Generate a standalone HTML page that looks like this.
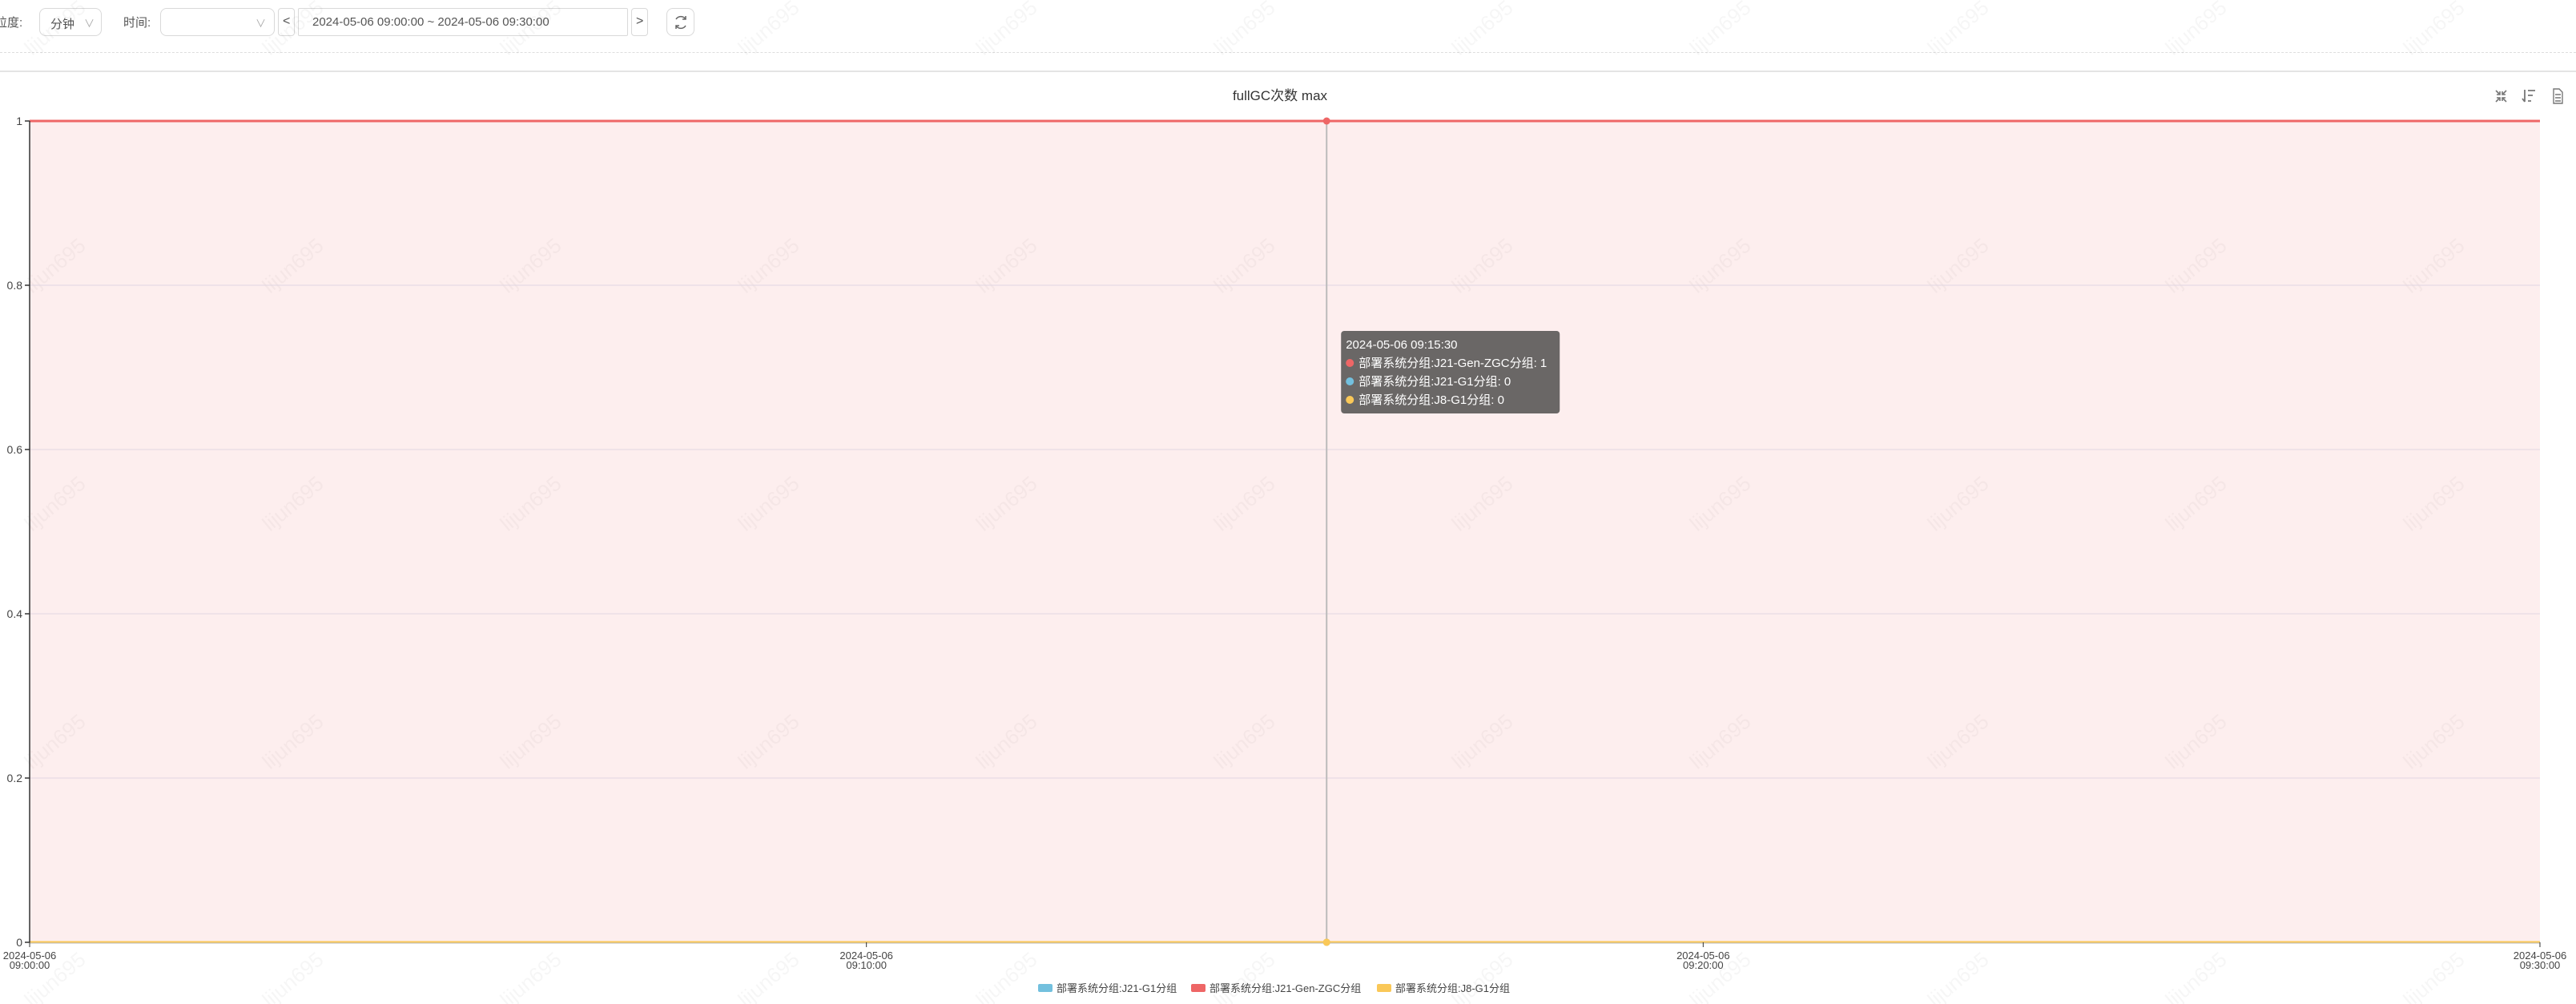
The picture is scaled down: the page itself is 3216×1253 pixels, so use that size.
<!DOCTYPE html>
<html><head><meta charset="utf-8">
<style>
html,body{margin:0;padding:0;background:#fff;}
body{width:3216px;height:1253px;position:relative;overflow:hidden;font-family:"Liberation Sans","Noto Sans CJK SC",sans-serif;color:#333;}
.abs{position:absolute;}
.box{position:absolute;border:1px solid #d9d9d9;border-radius:8px;box-sizing:border-box;background:#fff;}
.lbl{position:absolute;font-size:15px;color:#555;}
</style></head>
<body>
<div class="lbl" style="left:-6px;top:17px;">粒度:</div>
<div class="box" style="left:49px;top:10px;width:78px;height:35px;">
  <span class="abs" style="left:13px;top:8px;font-size:15px;color:#555;">分钟</span>
  <span class="abs" style="left:55px;top:8px;font-size:13px;color:#aaa;">∨</span>
</div>
<div class="lbl" style="left:154px;top:17px;">时间:</div>
<div class="box" style="left:200px;top:10px;width:143px;height:35px;">
  <span class="abs" style="left:118px;top:8px;font-size:13px;color:#aaa;">∨</span>
</div>
<div class="box" style="left:347px;top:10px;width:21px;height:35px;border-radius:4px;">
  <span class="abs" style="left:5px;top:7px;font-size:16px;color:#555;">&lt;</span>
</div>
<div class="box" style="left:372px;top:10px;width:412px;height:35px;border-radius:2px;">
  <span class="abs" style="left:17px;top:8px;font-size:15px;color:#555;white-space:nowrap;">2024-05-06 09:00:00 ~ 2024-05-06 09:30:00</span>
</div>
<div class="box" style="left:788px;top:10px;width:21px;height:35px;border-radius:4px;">
  <span class="abs" style="left:5px;top:7px;font-size:16px;color:#555;">&gt;</span>
</div>
<div class="box" style="left:832px;top:10px;width:35px;height:35px;">
  <svg class="abs" style="left:7px;top:7px" width="20" height="20" viewBox="0 0 20 20"><path d="M16 6 A7 7 0 0 0 4 6 M4 14 A7 7 0 0 0 16 14" fill="none" stroke="#666" stroke-width="1.5"/><path d="M16 2 V6 H12 M4 18 V14 H8" fill="none" stroke="#666" stroke-width="1.5"/></svg>
</div>
<div class="abs" style="left:0;top:65px;width:3216px;border-top:1px dashed #ddd;"></div>
<div class="abs" style="left:0;top:88px;width:3216px;border-top:2px solid #e4e4e4;"></div>

<svg id="chart" class="abs" style="left:0;top:0" width="3216" height="1253"></svg>

<script>
const minutes = [0,1,2,3,4,5,6,7,8,9,10,11,12,13,14,15,16,17,18,19,20,21,22,23,24,25,26,27,28,29,30];
const valJ21G1 = [0,0,0,0,0,0,0,0,0,0,0,0,0,0,0,0,0,0,0,0,0,0,0,0,0,0,0,0,0,0,0];
const valZGC   = [1,1,1,1,1,1,1,1,1,1,1,1,1,1,1,1,1,1,1,1,1,1,1,1,1,1,1,1,1,1,1];
const valJ8G1  = [0,0,0,0,0,0,0,0,0,0,0,0,0,0,0,0,0,0,0,0,0,0,0,0,0,0,0,0,0,0,0];
const yTicks = [0,0.2,0.4,0.6,0.8,1];
const xTickMinutes = [0,10,20,30];
const xTickLabels = [["2024-05-06","09:00:00"],["2024-05-06","09:10:00"],["2024-05-06","09:20:00"],["2024-05-06","09:30:00"]];
const hoverMinute = 15.5;
const hoverLabel = "2024-05-06 09:15:30";
const seriesNames = ["部署系统分组:J21-G1分组","部署系统分组:J21-Gen-ZGC分组","部署系统分组:J8-G1分组"];
const seriesColors = ["#73c0de","#ee6666","#fac858"];
const hoverValues = [0,1,0];

const L=37,R=3171,T=151,B=1176;
const xMin=0,xMax=30,yMin=0,yMax=1;
const sx=m=>L+(m-xMin)/(xMax-xMin)*(R-L);
const sy=v=>B-(v-yMin)/(yMax-yMin)*(B-T);
const NS="http://www.w3.org/2000/svg";
const svg=document.getElementById('chart');
function mk(tag,attrs,parent){const e=document.createElementNS(NS,tag);for(const k in attrs)e.setAttribute(k,attrs[k]);(parent||svg).appendChild(e);return e;}

for(let r=0;r<5;r++){for(let c=0;c<12;c++){
  const x=40+c*297, y=70+r*297;
  const t=mk('text',{x:x,y:y,transform:`rotate(-40 ${x} ${y})`,'font-size':26,fill:'rgba(0,0,0,0.035)','font-family':'Liberation Sans, sans-serif'});
  t.textContent='lijun695';
  
  
}}

const title=mk('text',{x:1598,y:125,'text-anchor':'middle','font-size':17,fill:'#333'});
title.textContent='fullGC次数 max';



const tb=mk('g',{});


const ic1=mk('g',{stroke:'#777','stroke-width':1.6,fill:'none'},tb);


mk('path',{d:'M3116 113 L3121 118 M3121 114 V118 H3117 M3129 113 L3124 118 M3124 114 V118 H3128 M3116 127 L3121 122 M3121 126 V122 H3117 M3129 127 L3124 122 M3124 126 V122 H3128'},ic1);
const ic2=mk('g',{stroke:'#777','stroke-width':1.8,fill:'none'},tb);


mk('path',{d:'M3152 112 V127 M3149 123 L3152 127 M3156 113 H3165 M3156 119 H3162 M3156 126 H3160'},ic2);
const ic3=mk('g',{stroke:'#777','stroke-width':1.4,fill:'none'},tb);


mk('path',{d:'M3188 111 H3195 L3199 115 V129 H3188 Z M3190 118 H3197 M3190 122 H3197 M3190 126 H3197'},ic3);

yTicks.forEach(v=>{
  const g=mk('line',{x1:L,x2:R,y1:sy(v),y2:sy(v),stroke:'#e0e6f1','stroke-width':1});
  
  
});

let ad=`M${sx(minutes[0])} ${sy(0)}`;
minutes.forEach((m,i)=>{ad+=` L${sx(m)} ${sy(valZGC[i])}`;});
ad+=` L${sx(minutes[minutes.length-1])} ${sy(0)} Z`;
const area=mk('path',{d:ad,fill:'rgba(238,102,102,0.11)'});



const hl=mk('line',{x1:sx(hoverMinute),x2:sx(hoverMinute),y1:T,y2:B,stroke:'#bbb','stroke-width':2});



function line(vals,color,name){
  const d=minutes.map((m,i)=>(i?'L':'M')+sx(m)+' '+sy(vals[i])).join(' ');
  const p=mk('path',{d:d,fill:'none',stroke:color,'stroke-width':3});
  
  
}
line(valJ21G1,seriesColors[0],'series-j21-g1-line');
line(valZGC,seriesColors[1],'series-j21-gen-zgc-line');
line(valJ8G1,seriesColors[2],'series-j8-g1-line');

const ya=mk('line',{x1:L,x2:L,y1:T,y2:B,stroke:'#333','stroke-width':1.5});


const xa=mk('line',{x1:L,x2:R,y1:B+1,y2:B+1,stroke:'#bbb','stroke-width':1});


yTicks.forEach(v=>{
  mk('line',{x1:L-6,x2:L,y1:sy(v),y2:sy(v),stroke:'#333','stroke-width':1.5});
  const t=mk('text',{x:L-9,y:sy(v)+5,'text-anchor':'end','font-size':14,fill:'#444'});
  t.textContent=String(v);
  
  
});
xTickMinutes.forEach((m,i)=>{
  mk('line',{x1:sx(m),x2:sx(m),y1:B,y2:B+6,stroke:'#333','stroke-width':1});
  const t=mk('text',{x:sx(m),y:B+21,'text-anchor':'middle','font-size':13,fill:'#444'});
  t.textContent=xTickLabels[i][0];
  
  
  const t2=mk('text',{x:sx(m),y:B+33,'text-anchor':'middle','font-size':13,fill:'#444'});
  t2.textContent=xTickLabels[i][1];
  
  
});

hoverValues.forEach((v,i)=>{
  const c=mk('circle',{cx:sx(hoverMinute),cy:sy(v),r:4.5,fill:seriesColors[i]});
  
  
});
mk('circle',{cx:sx(hoverMinute),cy:sy(hoverValues[2]),r:4.5,fill:seriesColors[2]});

const tg=mk('g',{});


const tx=sx(hoverMinute)+18, ty=413;
mk('rect',{x:tx,y:ty,width:273,height:103,rx:4,fill:'rgba(90,88,86,0.9)'},tg);
const t0=mk('text',{x:tx+6,y:ty+22,'font-size':15,fill:'#fff'},tg);
t0.textContent=hoverLabel;
const order=[1,0,2];
order.forEach((si,k)=>{
  const yy=ty+45+k*23;
  mk('circle',{cx:tx+11,cy:yy-5,r:5,fill:seriesColors[si]},tg);
  const t=mk('text',{x:tx+22,y:yy,'font-size':15,fill:'#fff'},tg);
  t.textContent=seriesNames[si]+': '+hoverValues[si];
});

const legX=[1296,1487,1719];
seriesNames.forEach((n,i)=>{
  const g=mk('g',{});
  
  
  mk('rect',{x:legX[i],y:1228,width:18,height:10,rx:2,fill:seriesColors[i]},g);
  const t=mk('text',{x:legX[i]+23,y:1238,'font-size':13,fill:'#444'},g);
  t.textContent=n;
});
</script>
</body></html>
